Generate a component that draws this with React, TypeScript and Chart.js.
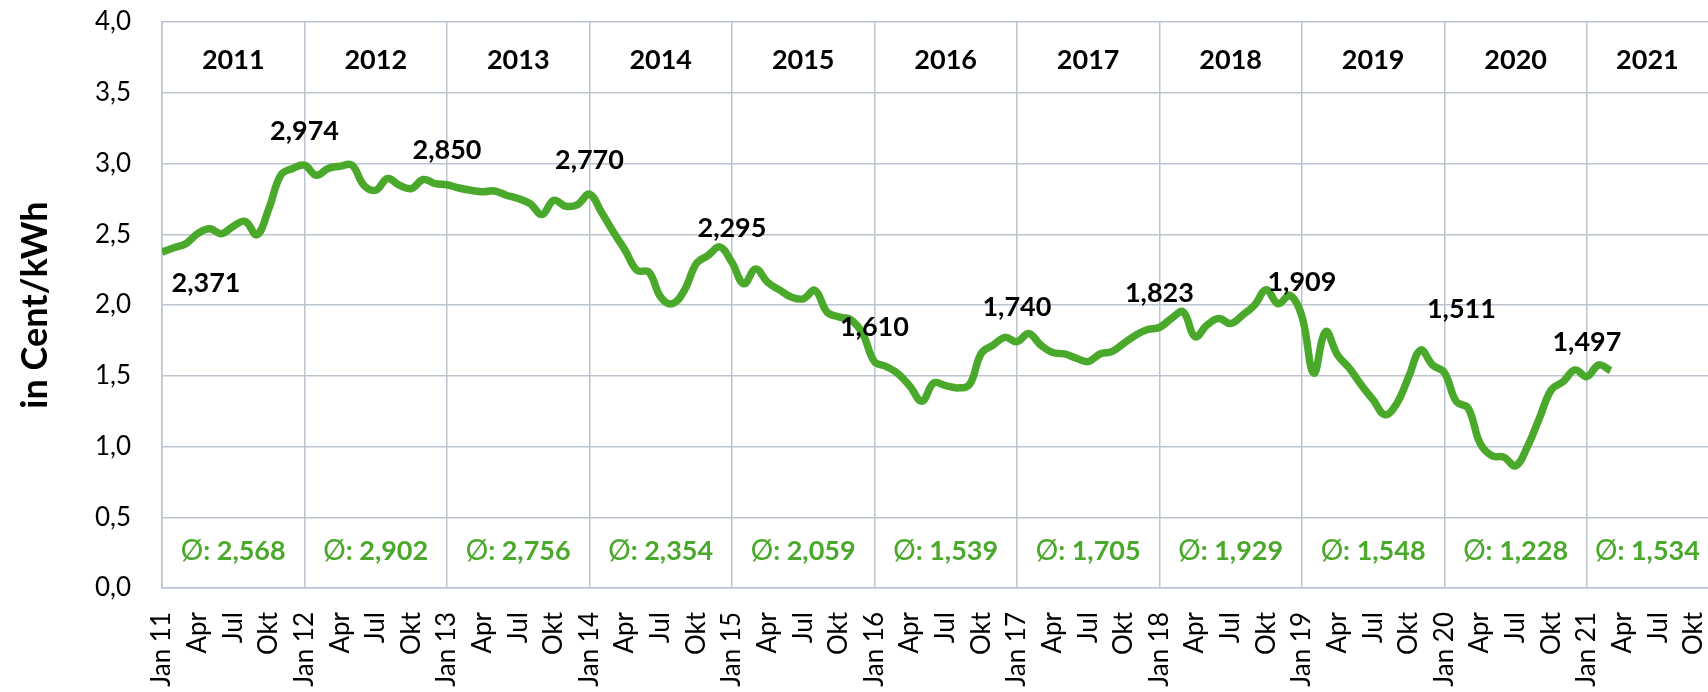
import { useEffect, useRef } from 'react';
import { Chart, registerables } from 'chart.js';

Chart.register(...registerables);

// ---- data ----
const years = [2011, 2012, 2013, 2014, 2015, 2016, 2017, 2018, 2019, 2020, 2021];
const yearAverages = [2.568, 2.902, 2.756, 2.354, 2.059, 1.539, 1.705, 1.929, 1.548, 1.228, 1.534];
const januaryLabels = [2.371, 2.974, 2.85, 2.77, 2.295, 1.61, 1.74, 1.823, 1.909, 1.511, 1.497];
const quarterNames = ['Jan', 'Apr', 'Jul', 'Okt'];
// monthly values, Jan 2011 ... Mar 2021
const prices2011 = [2.373, 2.404, 2.433, 2.504, 2.539, 2.504, 2.556, 2.591, 2.496, 2.681, 2.917, 2.965];
const prices2012 = [2.988, 2.917, 2.965, 2.981, 2.988, 2.846, 2.811, 2.894, 2.846, 2.823, 2.887, 2.858];
const prices2013 = [2.85, 2.827, 2.811, 2.8, 2.806, 2.776, 2.752, 2.716, 2.64, 2.74, 2.698, 2.71];
const prices2014 = [2.783, 2.658, 2.517, 2.387, 2.245, 2.233, 2.057, 2.009, 2.104, 2.292, 2.351, 2.41];
const prices2015 = [2.3, 2.15, 2.255, 2.161, 2.107, 2.056, 2.044, 2.103, 1.951, 1.916, 1.897, 1.799];
const prices2016 = [1.6, 1.565, 1.514, 1.425, 1.32, 1.449, 1.43, 1.414, 1.437, 1.659, 1.717, 1.771];
const prices2017 = [1.741, 1.799, 1.717, 1.664, 1.654, 1.624, 1.6, 1.654, 1.671, 1.729, 1.787, 1.827];
const prices2018 = [1.841, 1.904, 1.951, 1.776, 1.857, 1.904, 1.869, 1.928, 1.998, 2.107, 2.009, 2.068];
const prices2019 = [1.92, 1.518, 1.812, 1.647, 1.553, 1.435, 1.329, 1.224, 1.306, 1.494, 1.682, 1.576];
const prices2020 = [1.522, 1.318, 1.271, 1.024, 0.934, 0.925, 0.864, 1.0, 1.2, 1.4, 1.459, 1.541];
const prices2021 = [1.494, 1.576, 1.536];
const monthlyPrices = [
  ...prices2011, ...prices2012, ...prices2013, ...prices2014, ...prices2015, ...prices2016,
  ...prices2017, ...prices2018, ...prices2019, ...prices2020, ...prices2021,
];
const yMin = 0;
const yMax = 4;
const yStep = 0.5;
const xVisibleEnd = 130.2; // axis is cut off in mid-December 2021

// ---- styles ----
const GREEN = '#4aa82b';
const GRID = '#bcc5cf';
const FONT = 'Lato, "Noto Sans", sans-serif';

const de = (v: number, d: number) => v.toFixed(d).replace('.', ',');

const annotationPlugin = {
  id: 'annotations',
  afterDatasetsDraw(chart: any) {
    const { ctx, chartArea, scales } = chart;
    const x = scales.x;
    const y = scales.y;
    ctx.save();
    const size = 27;
    const cap = size * 0.72;

    const headerCenter = (y.getPixelForValue(4) + y.getPixelForValue(3.5)) / 2 + 2;
    const avgCenter = (y.getPixelForValue(0.5) + y.getPixelForValue(0)) / 2 - 2;

    years.forEach((yr, k) => {
      const x0 = x.getPixelForValue(12 * k);
      const x1 = Math.min(x.getPixelForValue(12 * k + 12), chartArea.right);
      const cx = (x0 + x1) / 2;

      // year header
      ctx.fillStyle = '#000';
      ctx.font = `bold ${size}px ${FONT}`;
      ctx.textAlign = 'center';
      ctx.textBaseline = 'alphabetic';
      ctx.fillText(String(yr), cx, headerCenter + cap / 2);

      // yearly average
      const rest = ': ' + de(yearAverages[k], 3);
      ctx.font = `${size + 1}px ${FONT}`;
      const w1 = ctx.measureText('Ø').width;
      ctx.font = `bold ${size}px ${FONT}`;
      const w2 = ctx.measureText(rest).width;
      const start = cx - (w1 + w2) / 2;
      ctx.textAlign = 'left';
      ctx.fillStyle = GREEN;
      ctx.font = `${size + 1}px ${FONT}`;
      ctx.fillText('Ø', start, avgCenter + cap / 2);
      ctx.font = `bold ${size}px ${FONT}`;
      ctx.fillText(rest, start + w1, avgCenter + cap / 2);

      // january value label
      const idx = 12 * k;
      if (idx < monthlyPrices.length) {
        let px = x.getPixelForValue(idx);
        const py = y.getPixelForValue(monthlyPrices[idx]);
        let cy = py - 35;
        if (k === 0) {
          cy = py + 30;
          px += 44;
        }
        if (k === 9) {
          cy = py - 64;
          px += 17;
        }
        ctx.fillStyle = '#000';
        ctx.textAlign = 'center';
        ctx.font = `bold ${size}px ${FONT}`;
        ctx.fillText(de(januaryLabels[k], 3), px, cy + cap / 2);
      }
    });

    // y-axis title
    ctx.save();
    ctx.translate(47, (chartArea.top + chartArea.bottom) / 2);
    ctx.rotate(-Math.PI / 2);
    ctx.fillStyle = '#000';
    ctx.font = `bold 36px ${FONT}`;
    ctx.textAlign = 'center';
    ctx.textBaseline = 'alphabetic';
    ctx.fillText('in Cent/kWh', 0, 0);
    ctx.restore();

    ctx.restore();
  },
};

export default function App() {
  const canvasRef = useRef<HTMLCanvasElement | null>(null);

  useEffect(() => {
    if (!canvasRef.current) return;
    const chart = new Chart(canvasRef.current, {
      type: 'line',
      data: {
        datasets: [
          {
            data: monthlyPrices.map((v, i) => ({ x: i, y: v })),
            borderColor: GREEN,
            borderWidth: 7.5,
            pointRadius: 0,
            tension: 0.4,
            fill: false,
            borderCapStyle: 'butt',
            borderJoinStyle: 'round',
          },
        ],
      },
      options: {
        animation: false,
        responsive: false,
        maintainAspectRatio: false,
        devicePixelRatio: 1,
        layout: { padding: { top: 22, left: 0, right: 0, bottom: 0 } },
        plugins: {
          legend: { display: false },
          tooltip: { enabled: false },
        },
        scales: {
          x: {
            type: 'linear',
            min: 0,
            max: xVisibleEnd,
            grid: {
              drawTicks: false,
              lineWidth: 1.5,
              color: (c: any) => (c.tick && Math.round(c.tick.value) % 12 === 0 ? GRID : 'rgba(0,0,0,0)'),
            },
            border: { color: GRID, width: 1.5 },
            ticks: {
              stepSize: 3,
              autoSkip: false,
              includeBounds: false,
              minRotation: 90,
              maxRotation: 90,
              padding: 24,
              color: '#000',
              font: { family: FONT, size: 26 },
              callback: (v: any) => {
                const n = Math.round(Number(v));
                const q = (n % 12) / 3;
                if (q === 0) {
                  const yr = years[0] + n / 12;
                  return `${quarterNames[0]} ${String(yr).slice(2)}`;
                }
                return quarterNames[q];
              },
            },
            afterFit: (s: any) => {
              s.height = 104;
              s.paddingLeft = 0;
              s.paddingRight = 0;
            },
          },
          y: {
            min: yMin,
            max: yMax,
            grid: { drawTicks: false, lineWidth: 1.5, color: GRID },
            border: { color: GRID, width: 1.5 },
            ticks: {
              stepSize: yStep,
              padding: 31,
              color: '#000',
              font: { family: FONT, size: 26 },
              callback: (v: any) => de(Number(v), 1),
            },
            afterFit: (s: any) => {
              s.width = 162;
              s.paddingTop = 0;
              s.paddingBottom = 0;
            },
          },
        },
      },
      plugins: [annotationPlugin],
    } as any);
    return () => chart.destroy();
  }, []);

  return (
    <div style={{ position: 'absolute', left: 0, top: 0, width: 1708, height: 692, background: '#fff' }}>
      <canvas ref={canvasRef} width={1708} height={692} style={{ display: 'block' }} />
    </div>
  );
}
